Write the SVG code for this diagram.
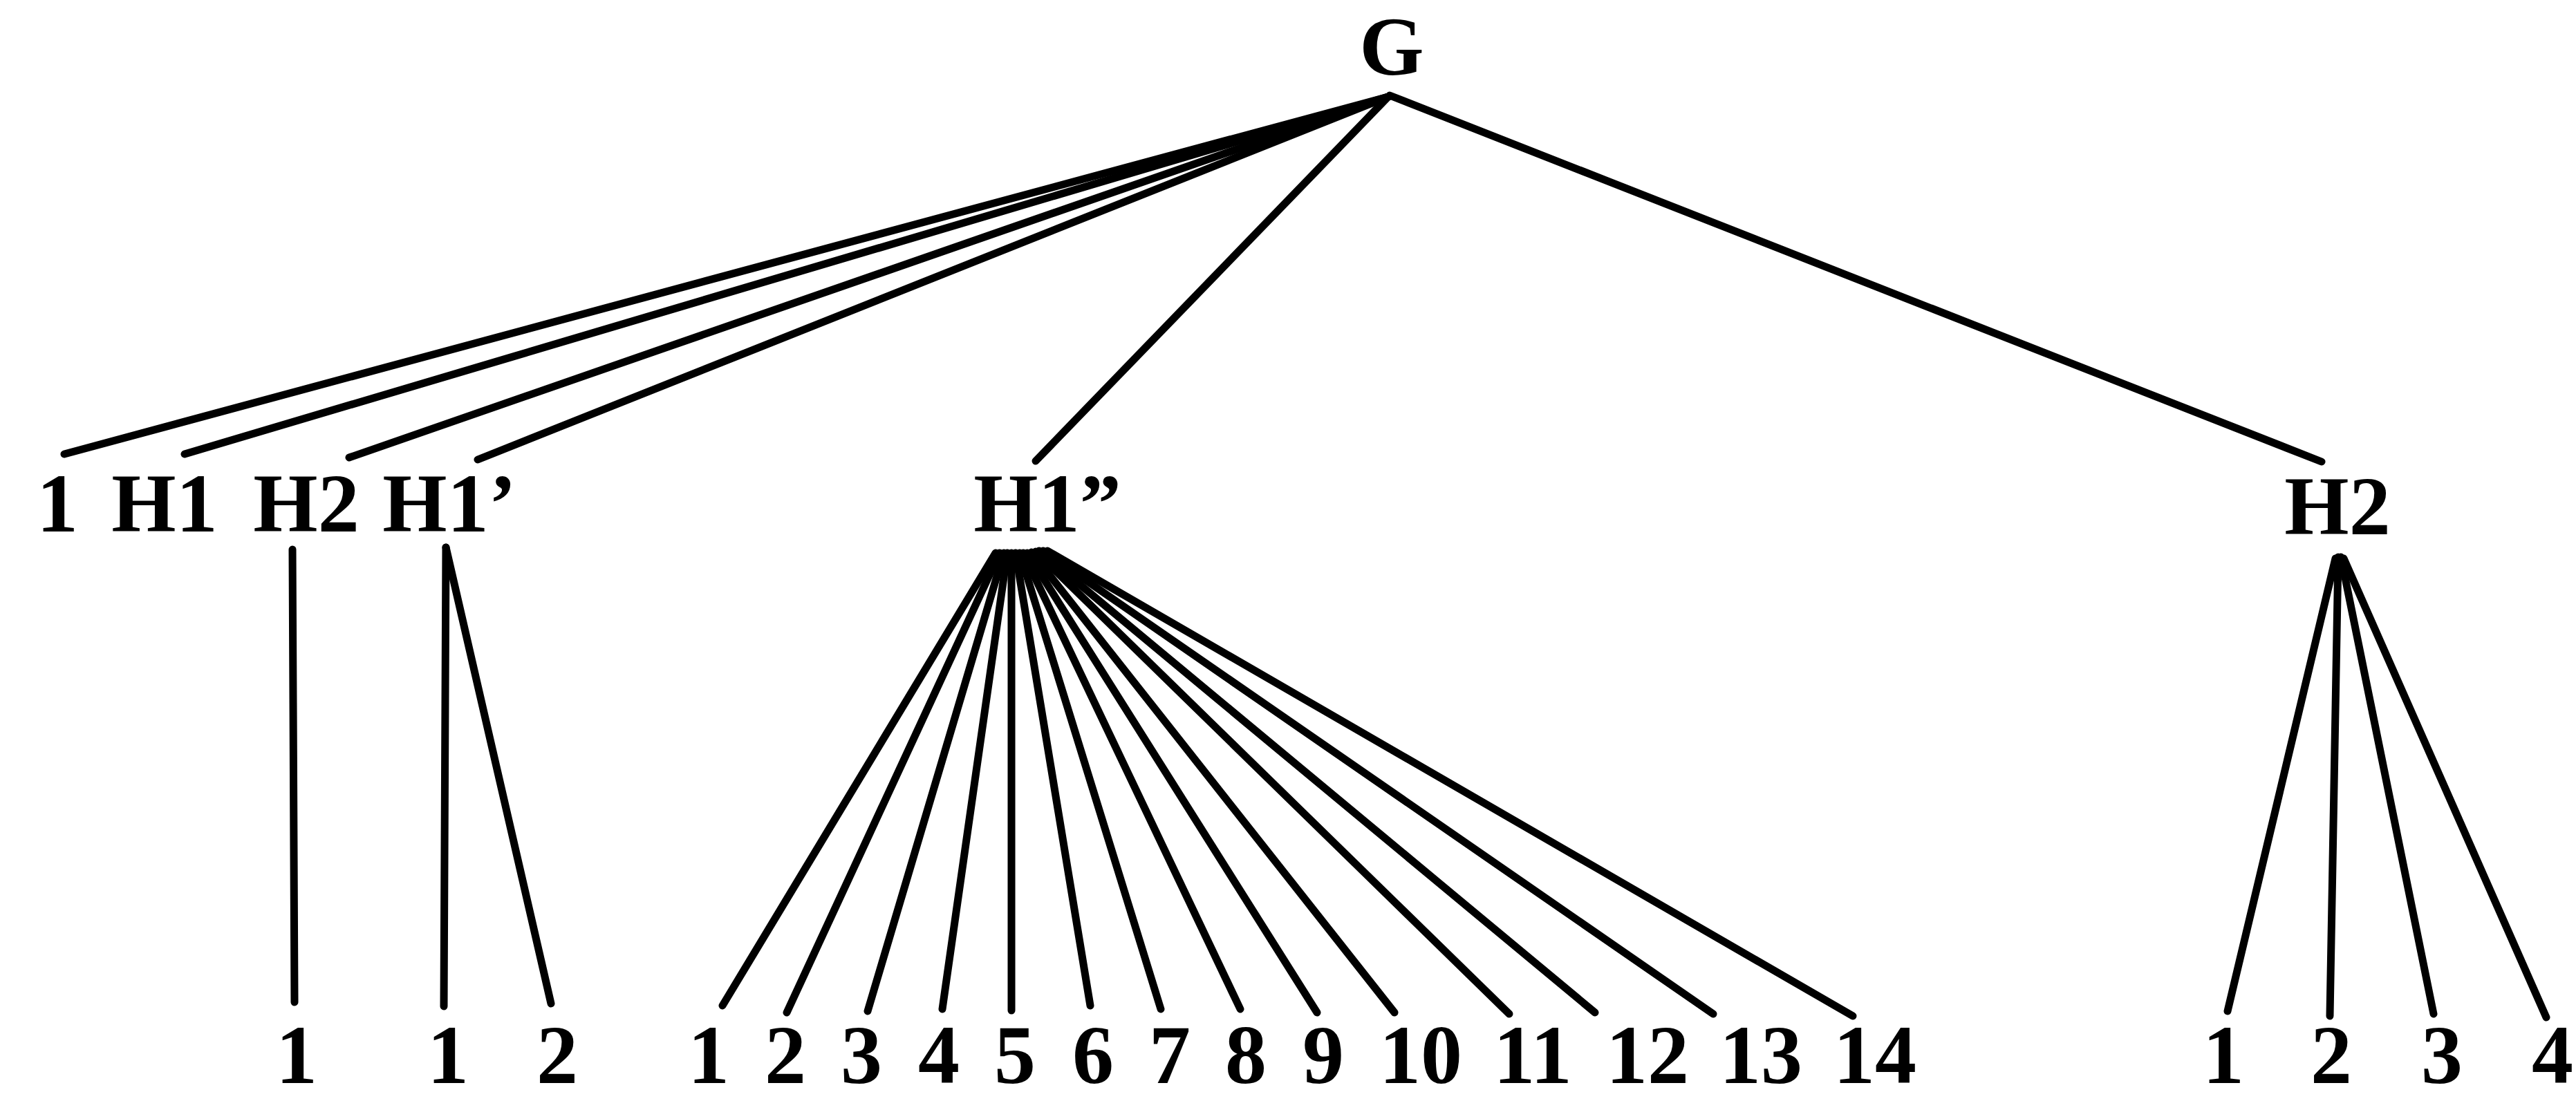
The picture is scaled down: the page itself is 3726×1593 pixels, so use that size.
<svg xmlns="http://www.w3.org/2000/svg" width="3726" height="1593" viewBox="0 0 3726 1593">
<style>
  .lbl { font-family: "Liberation Serif", "Times New Roman", serif; font-weight: bold; font-size: 120px; fill: #000; text-anchor: middle; }
  .edge { stroke: #000; stroke-width: 11; stroke-linecap: round; fill: none; }
</style>
<rect x="0" y="0" width="3726" height="1593" fill="#fff"/>
<g id="connectors">
  <line class="edge" x1="2008" y1="140" x2="93" y2="657"/>
  <line class="edge" x1="2008" y1="140" x2="267" y2="657"/>
  <line class="edge" x1="2008" y1="140" x2="505" y2="662"/>
  <line class="edge" x1="2008" y1="140" x2="691" y2="665"/>
  <line class="edge" x1="2008" y1="140" x2="1498" y2="667"/>
  <line class="edge" x1="2010" y1="138" x2="3358" y2="668"/>
  <line class="edge" x1="423" y1="795" x2="426" y2="1450"/>
  <line class="edge" x1="645" y1="792" x2="642" y2="1456"/>
  <line class="edge" x1="645" y1="792" x2="797" y2="1452"/>
  <line class="edge" x1="1440" y1="800" x2="1045" y2="1455"/>
  <line class="edge" x1="1446" y1="800" x2="1138" y2="1465"/>
  <line class="edge" x1="1452" y1="800" x2="1255" y2="1463"/>
  <line class="edge" x1="1457" y1="800" x2="1363" y2="1460"/>
  <line class="edge" x1="1463" y1="800" x2="1463" y2="1462"/>
  <line class="edge" x1="1469" y1="800" x2="1577" y2="1455"/>
  <line class="edge" x1="1475" y1="800" x2="1679" y2="1460"/>
  <line class="edge" x1="1480" y1="800" x2="1794" y2="1460"/>
  <line class="edge" x1="1486" y1="800" x2="1905" y2="1465"/>
  <line class="edge" x1="1492" y1="799" x2="2017" y2="1465"/>
  <line class="edge" x1="1498" y1="798" x2="2183" y2="1467"/>
  <line class="edge" x1="1503" y1="797" x2="2307" y2="1465"/>
  <line class="edge" x1="1509" y1="797" x2="2478" y2="1467"/>
  <line class="edge" x1="1515" y1="797" x2="2680" y2="1470"/>
  <line class="edge" x1="3378" y1="808" x2="3222" y2="1463"/>
  <line class="edge" x1="3382" y1="806" x2="3370" y2="1470"/>
  <line class="edge" x1="3386" y1="806" x2="3520" y2="1467"/>
  <line class="edge" x1="3390" y1="808" x2="3683" y2="1472"/>
</g>
<g id="n-G"><text class="lbl" x="2013" y="108">G</text></g>
<g id="n-1"><text class="lbl" x="83" y="769">1</text></g>
<g id="n-H1"><text class="lbl" x="238" y="769">H1</text></g>
<g id="n-H2a"><text class="lbl" x="443" y="769">H2</text></g>
<g id="n-H1p"><text class="lbl" x="650" y="769">H1’</text></g>
<g id="n-H1pp"><text class="lbl" x="1515" y="769">H1”</text></g>
<g id="n-H2b"><text class="lbl" x="3381" y="773">H2</text></g>
<g id="n-H2a-1"><text class="lbl" x="429" y="1567">1</text></g>
<g id="n-H1p-1"><text class="lbl" x="648" y="1567">1</text></g>
<g id="n-H1p-2"><text class="lbl" x="806" y="1567">2</text></g>
<g id="n-H1pp-1"><text class="lbl" x="1025" y="1567">1</text></g>
<g id="n-H1pp-2"><text class="lbl" x="1136" y="1567">2</text></g>
<g id="n-H1pp-3"><text class="lbl" x="1246" y="1567">3</text></g>
<g id="n-H1pp-4"><text class="lbl" x="1358" y="1567">4</text></g>
<g id="n-H1pp-5"><text class="lbl" x="1468" y="1567">5</text></g>
<g id="n-H1pp-6"><text class="lbl" x="1581" y="1567">6</text></g>
<g id="n-H1pp-7"><text class="lbl" x="1692" y="1567">7</text></g>
<g id="n-H1pp-8"><text class="lbl" x="1802" y="1567">8</text></g>
<g id="n-H1pp-9"><text class="lbl" x="1914" y="1567">9</text></g>
<g id="n-H1pp-10"><text class="lbl" x="2055" y="1567">10</text></g>
<g id="n-H1pp-11"><text class="lbl" x="2217" y="1567">11</text></g>
<g id="n-H1pp-12"><text class="lbl" x="2383" y="1567">12</text></g>
<g id="n-H1pp-13"><text class="lbl" x="2547" y="1567">13</text></g>
<g id="n-H1pp-14"><text class="lbl" x="2712" y="1567">14</text></g>
<g id="n-H2b-1"><text class="lbl" x="3216" y="1567">1</text></g>
<g id="n-H2b-2"><text class="lbl" x="3372" y="1567">2</text></g>
<g id="n-H2b-3"><text class="lbl" x="3532" y="1567">3</text></g>
<g id="n-H2b-4"><text class="lbl" x="3692" y="1567">4</text></g>
</svg>
